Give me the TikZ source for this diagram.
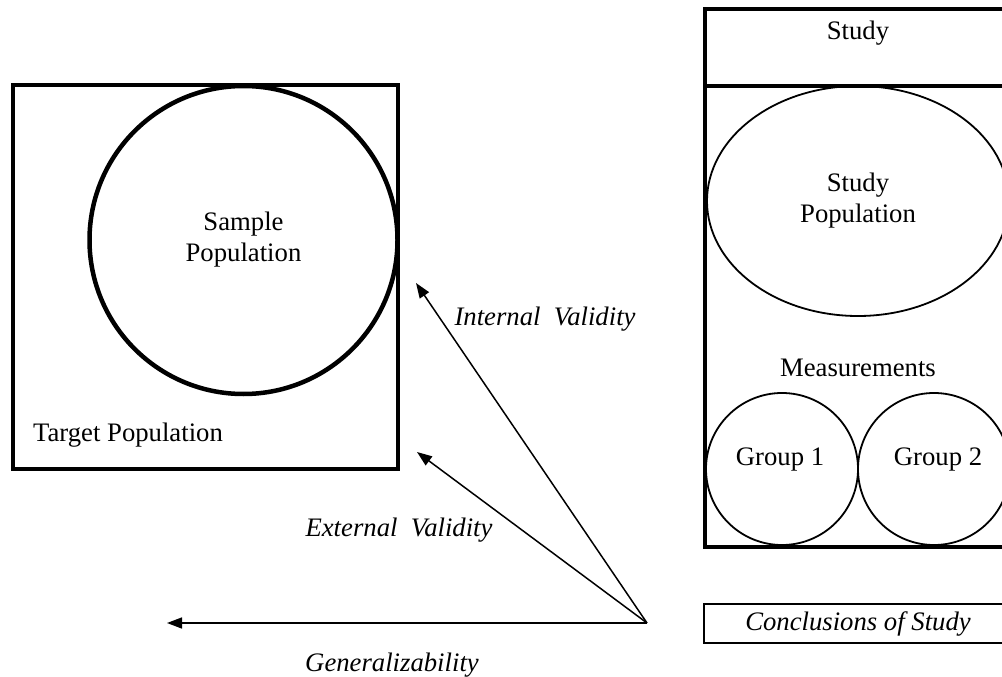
\documentclass[tikz,border=0pt]{standalone}
\usepackage{fontspec}
\setmainfont{Liberation Serif}
\usetikzlibrary{arrows.meta,shapes.geometric}
\begin{document}
\begin{tikzpicture}[x=1pt,y=-1pt,
  thickbox/.style={draw,line width=4.5pt,inner sep=0pt},
  thinshape/.style={draw,line width=1.8pt,inner sep=0pt},
  txt/.style={inner sep=0pt,align=center,font=\fontsize{26.7}{31}\selectfont},
  itxt/.style={txt,font=\fontsize{26.7}{31}\selectfont\itshape},
  arr/.style={line width=1.5pt,-{Triangle[length=15pt,width=11pt]}}]
\useasboundingbox (0,0) rectangle (1002,677);
\clip (0,0) rectangle (1002,677);
% left side
\node[thickbox,minimum width=385pt,minimum height=384pt] (target) at (205.5,277) {};
\node[thickbox,circle,minimum size=308pt,txt] (sample) at (243.5,240) {Sample\\Population};
\node[txt,anchor=base] (targetlbl) at (128,441) {Target Population};
% right side
\node[thickbox,minimum width=306pt,minimum height=77pt] (studyhead) at (858,47.5) {};
\node[txt,anchor=base] (studylbl) at (858,40) {Study};
\node[thickbox,minimum width=306pt,minimum height=461pt] (studybox) at (858,316.5) {};
\node[thinshape,ellipse,minimum width=302pt,minimum height=230pt,txt] (studypop) at (858,201) {Study\\Population};
\node[txt,anchor=base] (meas) at (858,376) {Measurements};
\node[thinshape,circle,minimum size=152pt] (g1) at (782,469) {};
\node[thinshape,circle,minimum size=152pt] (g2) at (934,469) {};
\node[txt,anchor=base] (g1lbl) at (780,465) {Group 1};
\node[txt,anchor=base] (g2lbl) at (938,465) {Group 2};
\node[draw,line width=1.5pt,minimum width=308pt,minimum height=39pt,itxt] (concl) at (858,623.5) {Conclusions of Study};
% arrows
\coordinate (o) at (647,623);
\coordinate (tint) at (416,283);
\coordinate (text) at (417,452);
\coordinate (tgen) at (167,623);
\draw[arr] (o) -- (tint);
\draw[arr] (o) -- (text);
\draw[arr] (o) -- (tgen);
\node[itxt,anchor=base] (intlbl) at (545,325) {Internal\ \ Validity};
\node[itxt,anchor=base] (extlbl) at (399,536) {External\ \ Validity};
\node[itxt,anchor=base] (genlbl) at (392,671) {Generalizability};
\end{tikzpicture}
\end{document}
